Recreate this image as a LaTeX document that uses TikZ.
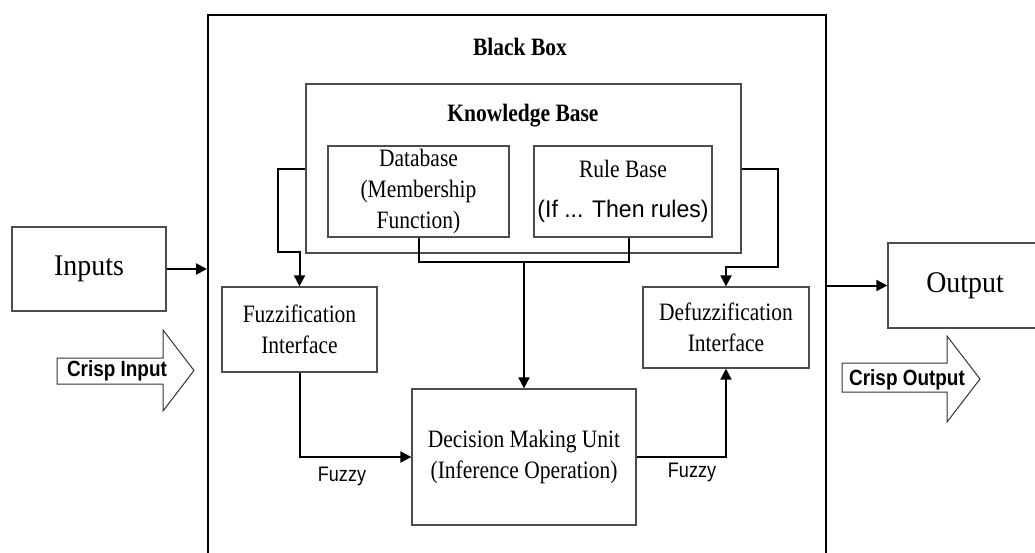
\documentclass[tikz,border=0pt]{standalone}
\usepackage{fontspec}
\setmainfont{Liberation Serif}[FakeStretch=0.86]
\newfontfamily\wideserif{Liberation Serif}[FakeStretch=0.93]
\newfontfamily\narrowsans{Liberation Sans}[FakeStretch=0.86]
\newfontfamily\rulesans{Liberation Sans}[FakeStretch=0.96]
\usetikzlibrary{arrows.meta}

\begin{document}
\begin{tikzpicture}[x=1pt,y=-1pt,
  box/.style={draw=black!70, line width=1.3pt, fill=white, align=center,
    inner sep=0pt, font=\fontsize{25}{31}\selectfont},
  iobox/.style={box, font=\wideserif\fontsize{30}{34}\selectfont},
  conn/.style={line width=2pt, black},
  arr/.style={conn, -{Triangle[length=11pt,width=11pt]}},
  title/.style={font=\bfseries\fontsize{25}{30}\selectfont},
  fuzzylbl/.style={font=\narrowsans\fontsize{21}{24}\selectfont},
  crisplbl/.style={font=\narrowsans\bfseries\fontsize{22}{26}\selectfont},
  blockarrow/.style={draw=black!80, line width=1pt, fill=white, line join=miter}]

\useasboundingbox (0,0) rectangle (1035,552);
\clip (0,0) rectangle (1035,552);

% the controller enclosure, open at the bottom edge of the page
\node[draw, line width=2pt, minimum width=618pt, minimum height=555pt,
  inner sep=0pt] (blackbox) at (517,292.5) {};
\node[title] (bbtitle) at (520,47) {Black Box};

% knowledge base with its two stores
\node[box, minimum width=435pt, minimum height=169pt] (kb) at (523.5,168.5) {};
\node[title] (kbtitle) at (523,116) {Knowledge Base};
\node[box, minimum width=181pt, minimum height=91pt] (db) at (418.5,191.5)
  {Database\\(Membership\\Function)};
\node[box, minimum width=178pt, minimum height=91pt] (rb) at (623,191.5)
  {Rule Base\\[9pt]{\rulesans\fontsize{24}{31}\selectfont (If ... Then rules)}};

% processing stages
\node[box, minimum width=155pt, minimum height=85pt] (fuzz) at (299.5,329.5)
  {Fuzzification\\Interface};
\node[box, minimum width=166pt, minimum height=81pt] (defuzz) at (726,327.5)
  {Defuzzification\\Interface};
\node[box, minimum width=224pt, minimum height=136pt] (dmu) at (524,457)
  {Decision Making Unit\\(Inference Operation)};

% outside world
\node[iobox, minimum width=154pt, minimum height=84pt] (inputs) at (89,269) {Inputs};
\node[iobox, minimum width=154pt, minimum height=85pt, text width=144pt,
  align=center] (output) at (965,285.5) {Output};

% wide hollow arrows for the crisp signals
\draw[blockarrow] (57,358) -- (163,358) -- (163,330) -- (194,370.5)
  -- (163,411) -- (163,384) -- (57,384) -- cycle;
\node[crisplbl] (crispin) at (117,371) {Crisp Input};
\draw[blockarrow] (842,363) -- (947,363) -- (947,336) -- (980,379)
  -- (947,422) -- (947,392) -- (842,392) -- cycle;
\node[crisplbl] (crispout) at (907,380) {Crisp Output};

% signal flow
\draw[arr] (inputs.east) -- (inputs.east -| blackbox.west);
\draw[arr] (output.west -| blackbox.east) -- (output.west);

\coordinate (busmid) at (dmu.north |- 0,262);
\draw[conn] (db.south) |- ([xshift=6pt]rb.south |- busmid) -- ([xshift=6pt]rb.south);
\draw[arr] (busmid) -- (dmu.north);

\draw[arr] (kb.west |- 0,169) -| (278,252) -| (fuzz.north);
\draw[arr] (kb.east |- 0,169) -| (778,267) -| (defuzz.north);

\draw[arr] (fuzz.south) |- (dmu.west);
\draw[arr] (dmu.east) -| (defuzz.south);
\node[fuzzylbl] (fuzzyin) at (342,476) {Fuzzy};
\node[fuzzylbl] (fuzzyout) at (692,472) {Fuzzy};
\end{tikzpicture}
\end{document}
